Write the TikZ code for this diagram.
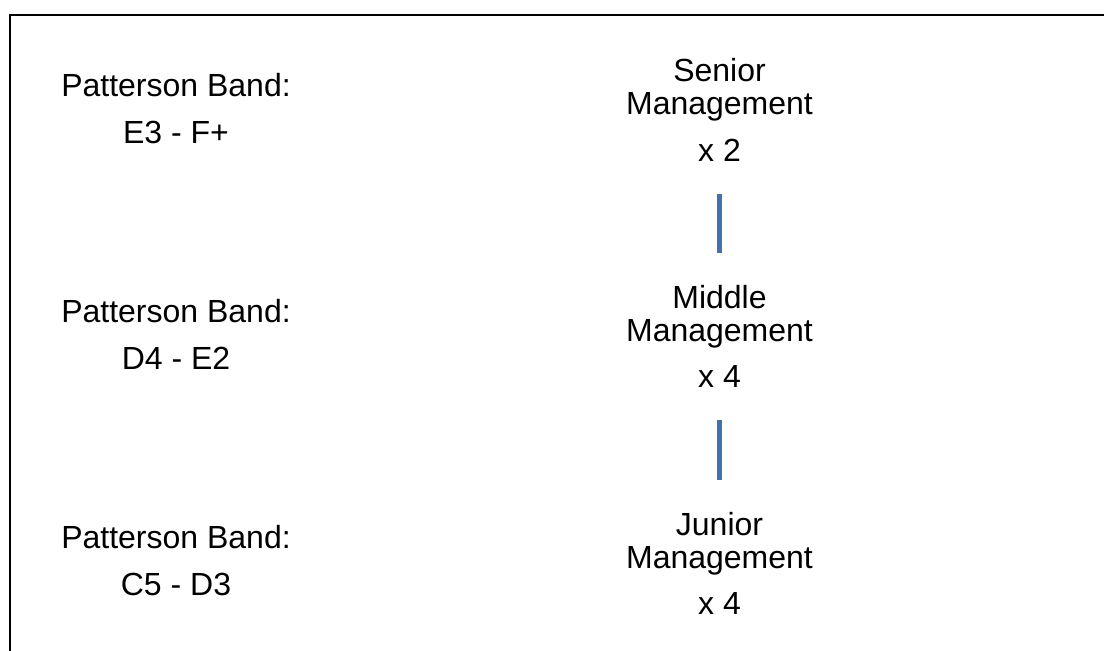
\documentclass[tikz,border=0pt]{standalone}
\usepackage{fontspec}
\setmainfont{Liberation Sans}
\usepackage{xcolor}
\usetikzlibrary{positioning}

\definecolor{linkblue}{HTML}{4471AA}

\begin{document}
\begin{tikzpicture}[x=0.5pt,y=-0.5pt,
  band node/.style={inner sep=0pt,anchor=base,align=center,
                    font=\fontsize{16}{23.5}\selectfont},
  level node/.style={inner sep=0pt,anchor=base,align=center,
                     font=\fontsize{16}{16.5}\selectfont},
  count node/.style={inner sep=0pt,anchor=base,font=\fontsize{16}{19}\selectfont},
  link/.style={line width=2.8pt,draw=linkblue,shorten <=16pt,shorten >=16pt}]

  \useasboundingbox (0,0) rectangle (1104,651);

  % frame, only top and left edges show
  \coordinate (frameTR) at (1104,15);
  \coordinate (frameTL) at (10,15);
  \coordinate (frameBL) at (10,651);
  \draw[line width=1pt] (frameTR) -- (frameTL) -- (frameBL);

  % pay bands (base = last line)
  \node[band node] (bandS) at (176,144) {Patterson Band:\\E3 - F+};
  \node[band node] (bandM) at (176,370) {Patterson Band:\\D4 - E2};
  \node[band node] (bandJ) at (176,596) {Patterson Band:\\C5 - D3};

  % levels
  \node[level node] (senior) at (719.5,115) {Senior\\Management};
  \node[count node] (nSenior) at (719.5,162) {x 2};

  \node[level node] (middle) at (719.5,342) {Middle\\Management};
  \node[count node] (nMiddle) at (719.5,388) {x 4};

  \node[level node] (junior) at (719.5,569) {Junior\\Management};
  \node[count node] (nJunior) at (719.5,615) {x 4};

  % links between levels
  \draw[link] (nSenior) -- (middle);
  \draw[link] (nMiddle) -- (junior);

\end{tikzpicture}
\end{document}
